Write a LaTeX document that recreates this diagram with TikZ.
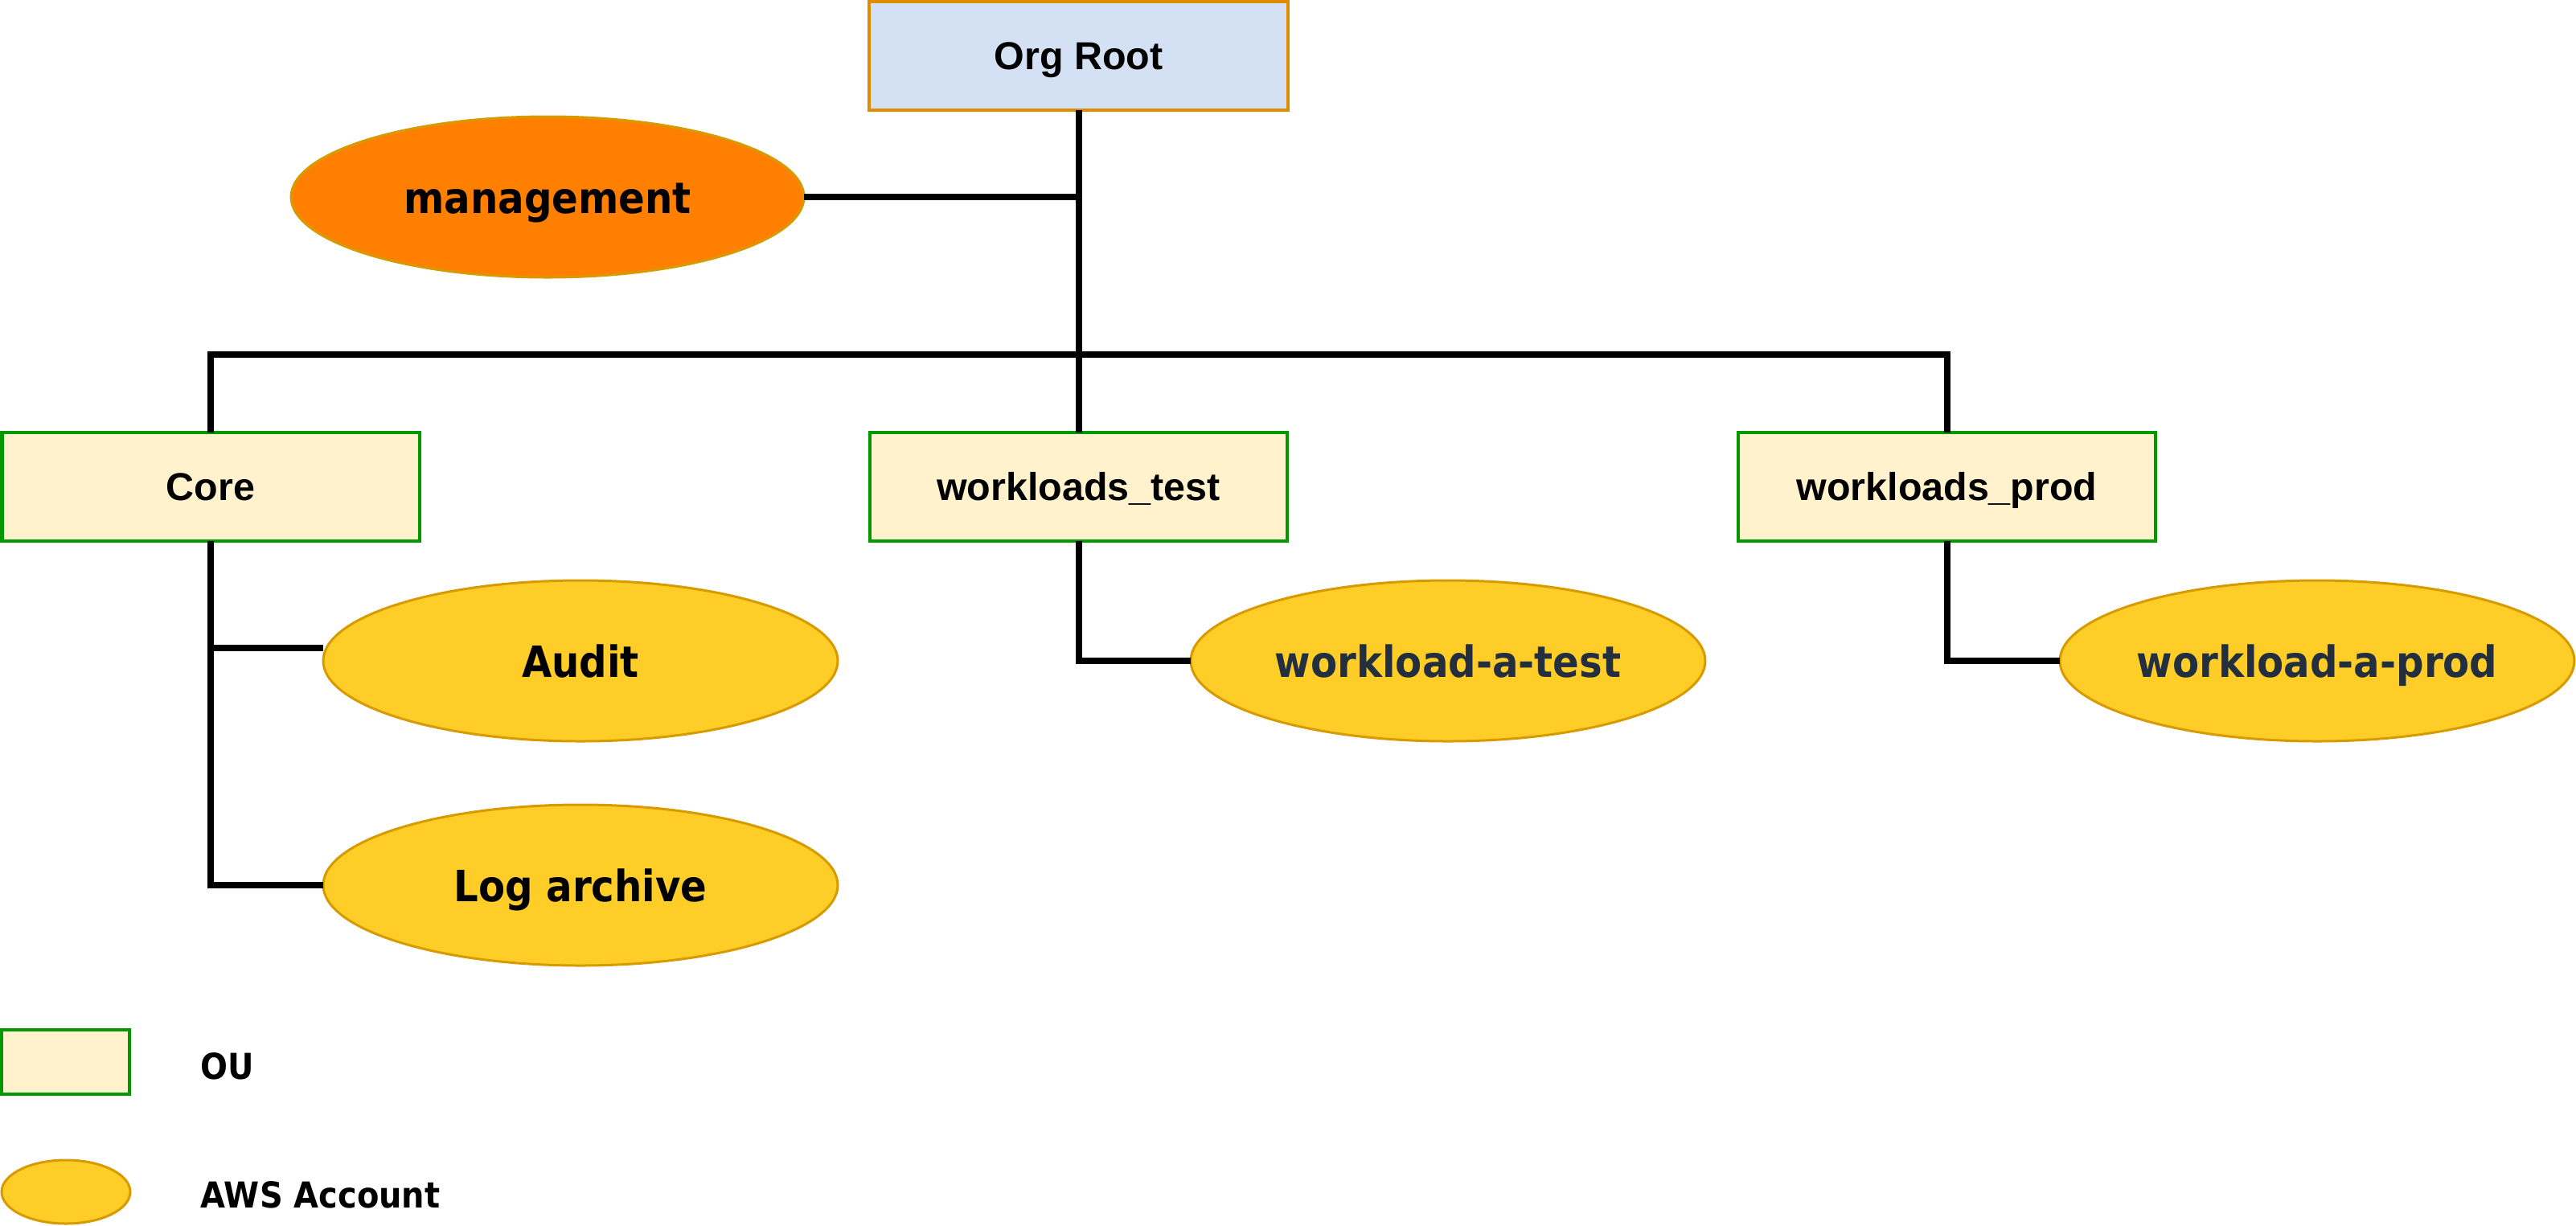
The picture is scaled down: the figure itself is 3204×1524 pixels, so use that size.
\documentclass[tikz,border=0pt]{standalone}
\usepackage{fontspec}
\usetikzlibrary{shapes.geometric,calc}
\newfontfamily\boxfont{Liberation Sans}
\newfontfamily\acctfont{DejaVu Sans}[FakeStretch=0.9]
\definecolor{rootfill}{HTML}{D4E1F5}
\definecolor{rootline}{HTML}{E08C00}
\definecolor{oufill}{HTML}{FFF2CC}
\definecolor{ouline}{HTML}{009900}
\definecolor{acctfill}{HTML}{FFCD28}
\definecolor{acctline}{HTML}{D79B00}
\definecolor{mgmtfill}{HTML}{FF8000}
\definecolor{awsink}{HTML}{232F3E}
\begin{document}
\begin{tikzpicture}[x=0.25pt,y=-0.25pt,
  rootbox/.style={rectangle,draw=rootline,fill=rootfill,line width=1pt,
    minimum width=130.25pt,minimum height=33.75pt,inner sep=0pt,outer sep=0pt,
    text height=8.7pt,text depth=0pt,
    font=\boxfont\bfseries\fontsize{12.1pt}{15pt}\selectfont},
  oubox/.style={rectangle,draw=ouline,fill=oufill,line width=1pt,
    minimum width=129.75pt,minimum height=33.75pt,inner sep=0pt,outer sep=0pt,
    text height=8.7pt,text depth=0pt,
    font=\boxfont\bfseries\fontsize{12.1pt}{15pt}\selectfont},
  acct/.style={ellipse,draw=acctline,fill=acctfill,line width=0.75pt,
    minimum width=160pt,minimum height=50pt,inner sep=0pt,outer sep=0pt,
    text height=10pt,text depth=0pt,
    font=\acctfont\bfseries\fontsize{13.4pt}{15pt}\selectfont},
  legendtext/.style={anchor=west,inner sep=0pt,
    font=\acctfont\bfseries\fontsize{11.1pt}{13pt}\selectfont},
  link/.style={draw=black,line width=2pt,line join=miter,line cap=butt}]
\useasboundingbox (0,0) rectangle (3204,1524);

% organisation root and management account
\node[rootbox] (root) at (1341.5,69.5) {Org Root};
\node[acct,fill=mgmtfill,minimum width=159.5pt] (mgmt) at (681,245) {management};

% organisational units
\node[oubox] (core)  at (262,605)    {Core};
\node[oubox] (wtest) at (1341.5,605) {workloads\_test};
\node[oubox] (wprod) at (2421.5,605) {workloads\_prod};

% member accounts
\node[acct] (audit)  at (722,822)  {Audit};
\node[acct] (logarc) at (722,1101) {Log archive};
\node[acct,text=awsink] (wat) at (1801,822) {workload-a-test};
\node[acct,text=awsink] (wap) at (2882,822) {workload-a-prod};

% legend
\node[oubox,minimum width=39.75pt,minimum height=20pt] (lgou) at (81.5,1321) {};
\node[legendtext] (lgoutext) at (249,1326) {OU};
\node[acct,minimum width=40pt,minimum height=19.75pt] (lgacct) at (82,1482.5) {};
\node[legendtext] (lgaccttext) at (249,1486) {AWS Account};

% tree connectors
\coordinate (bus) at (1341.5,441);
\coordinate (auditjoin) at ($(audit.west)+(0,-16)$);
\draw[link] (root.south) -- (wtest.north);
\draw[link] (mgmt.east) -- (mgmt.east -| root.south);
\draw[link] (core.north) |- (bus) -| (wprod.north);
\draw[link] (core.south) |- (logarc.west);
\draw[link] (core.south |- auditjoin) -- (auditjoin);
\draw[link] (wtest.south) |- (wat.west);
\draw[link] (wprod.south) |- (wap.west);
\end{tikzpicture}
\end{document}
